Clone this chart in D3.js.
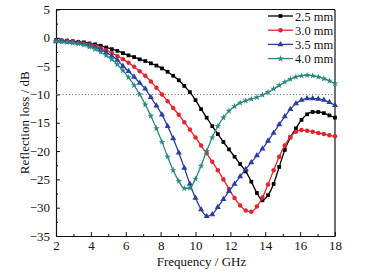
<!DOCTYPE html>
<html>
<head>
<meta charset="utf-8">
<script src="https://cdn.jsdelivr.net/npm/d3@7"></script>
<style>
  body { margin: 0; background: #fff; }
  text { font-family: "Liberation Serif", "Times New Roman", serif; }
</style>
</head>
<body>
<div id="chart"></div>
<script>
// Frequency points (GHz), 0.32 GHz step
const freq = d3.range(51).map(i => +(2 + 0.32 * i).toFixed(2));

const rl25 = [-0.4, -0.45, -0.5, -0.6, -0.7, -0.8, -1.0, -1.15, -1.4, -1.7,
  -2.0, -2.3, -2.7, -3.1, -3.4, -3.8, -4.1, -4.5, -4.9, -5.4,
  -6.0, -6.7, -7.5, -8.5, -9.6, -11.0, -12.6, -14.1, -15.6, -17.0,
  -18.4, -19.7, -21.0, -22.3, -23.6, -25.4, -27.4, -28.7, -27.8, -25.8,
  -22.8, -19.8, -17.6, -16.0, -14.5, -13.5, -13.1, -13.1, -13.3, -13.7, -14.1];

const rl30 = [-0.5, -0.55, -0.6, -0.7, -0.85, -1.0, -1.2, -1.45, -1.8, -2.2,
  -2.7, -3.2, -3.8, -4.4, -5.1, -5.9, -6.7, -7.7, -8.8, -10.0,
  -11.2, -12.4, -13.6, -14.9, -16.2, -17.6, -19.0, -20.4, -21.9, -23.4,
  -25.0, -26.7, -28.3, -29.6, -30.5, -30.7, -29.8, -28.2, -25.9, -23.4,
  -21.0, -19.0, -17.5, -16.6, -16.3, -16.4, -16.6, -16.8, -17.0, -17.2, -17.4];

const rl35 = [-0.55, -0.6, -0.7, -0.8, -0.95, -1.1, -1.4, -1.7, -2.1, -2.6,
  -3.2, -3.9, -5.0, -5.9, -6.9, -8.0, -9.0, -10.5, -12.0, -13.6,
  -15.6, -17.8, -20.3, -23.0, -25.8, -28.3, -30.3, -31.5, -31.2, -29.9,
  -28.5, -27.1, -25.8, -24.5, -23.2, -22.0, -20.8, -19.6, -18.2, -16.8,
  -15.3, -13.9, -12.6, -11.6, -11.0, -10.7, -10.7, -10.8, -11.0, -11.4, -11.9];

const rl40 = [-0.65, -0.7, -0.8, -0.9, -1.05, -1.25, -1.6, -2.0, -2.5, -3.1,
  -3.8, -4.7, -5.8, -7.0, -8.4, -10.0, -11.8, -13.8, -16.0, -18.4,
  -21.0, -23.4, -25.3, -26.6, -26.5, -24.9, -22.6, -20.0, -17.6, -15.6,
  -14.1, -12.9, -12.1, -11.5, -11.1, -10.8, -10.5, -10.1, -9.6, -9.0,
  -8.4, -7.8, -7.3, -6.9, -6.7, -6.6, -6.7, -6.9, -7.2, -7.6, -8.1];

const seriesNames = ["2.5 mm", "3.0 mm", "3.5 mm", "4.0 mm"];
const seriesValues = [rl25, rl30, rl35, rl40];
const colors = ["#000000", "#e3262d", "#2c3f9e", "#2a8a80"];
const symbols = [d3.symbolSquare, d3.symbolCircle, d3.symbolTriangle, d3.symbolStar];
const symbolSizes = [14, 16, 16, 14];

const xTicks = [2, 4, 6, 8, 10, 12, 14, 16, 18];
const yTicks = [5, 0, -5, -10, -15, -20, -25, -30, -35];

const W = 371, H = 277;
const margin = {top: 9.5, right: 36, bottom: 41, left: 56};
const width = W - margin.left - margin.right,
      height = H - margin.top - margin.bottom;

const x = d3.scaleLinear().domain([2, 18]).range([0, width]);
const y = d3.scaleLinear().domain([-35, 5]).range([height, 0]);

const svg = d3.select("#chart").append("svg")
    .attr("width", W)
    .attr("height", H)
  .append("g")
    .attr("transform", `translate(${margin.left},${margin.top})`);

// minor ticks (inward)
svg.append("g")
   .attr("transform", `translate(0,${height})`)
   .call(d3.axisBottom(x).tickValues(d3.range(3, 18, 2)).tickSize(-2).tickFormat(""))
   .call(g => g.select(".domain").remove());
svg.append("g")
   .call(d3.axisLeft(y).tickValues(d3.range(-32.5, 5, 5)).tickSize(-2).tickFormat(""))
   .call(g => g.select(".domain").remove());

// major axes
const xAxis = svg.append("g")
   .attr("transform", `translate(0,${height})`)
   .call(d3.axisBottom(x).tickValues(xTicks).tickSizeInner(-4).tickSizeOuter(0).tickPadding(5));
const yAxis = svg.append("g")
   .call(d3.axisLeft(y).tickValues(yTicks).tickSizeInner(-4).tickSizeOuter(0).tickPadding(6));

[xAxis, yAxis].forEach(g => {
  g.selectAll("text").attr("font-size", 13).attr("fill", "#111")
   .style("font-family", "'Liberation Serif', serif");
  g.selectAll("line").attr("stroke", "#111");
  g.select(".domain").attr("stroke", "#111").attr("stroke-width", 1.2);
});

// frame top / right
svg.append("line").attr("x1", 0).attr("x2", width).attr("y1", 0).attr("y2", 0)
   .attr("stroke", "#111").attr("stroke-width", 1.2);
svg.append("line").attr("x1", width).attr("x2", width).attr("y1", 0).attr("y2", height)
   .attr("stroke", "#111").attr("stroke-width", 1.2);

// reference line at -10 dB
svg.append("line")
   .attr("x1", 0).attr("x2", width)
   .attr("y1", y(-10)).attr("y2", y(-10))
   .attr("stroke", "#777").attr("stroke-width", 1)
   .attr("stroke-dasharray", "1.2,2");

const line = d3.line()
    .x((d, i) => x(freq[i]))
    .y(d => y(d))
    .curve(d3.curveMonotoneX);

seriesValues.forEach((vals, k) => {
  svg.append("path")
     .datum(vals)
     .attr("fill", "none")
     .attr("stroke", colors[k])
     .attr("stroke-width", 1.3)
     .attr("d", line);
  svg.selectAll(".m" + k)
     .data(vals)
   .enter().append("path")
     .attr("class", "m" + k)
     .attr("transform", (d, i) => `translate(${x(freq[i])},${y(d)})`)
     .attr("d", d3.symbol().type(symbols[k]).size(symbolSizes[k]))
     .attr("fill", colors[k]);
});

// legend
const legend = svg.append("g").attr("transform", `translate(${width - 67},6.5)`);
seriesNames.forEach((name, k) => {
  const row = legend.append("g").attr("transform", `translate(0,${k * 14.2})`);
  row.append("line").attr("x1", 0).attr("x2", 25).attr("y1", 0).attr("y2", 0)
     .attr("stroke", colors[k]).attr("stroke-width", 1.3);
  row.append("path")
     .attr("transform", "translate(12.5,0)")
     .attr("d", d3.symbol().type(symbols[k]).size(symbolSizes[k]))
     .attr("fill", colors[k]);
  row.append("text").attr("x", 27).attr("y", 4.5)
     .attr("font-size", 12.5).attr("fill", "#111")
     .text(name);
});

// axis titles
svg.append("text")
   .attr("x", width / 2 + 6).attr("y", height + 29.5)
   .attr("text-anchor", "middle")
   .attr("font-size", 13).attr("fill", "#111")
   .text("Frequency / GHz");
svg.append("text")
   .attr("transform", `translate(-27,${height / 2}) rotate(-90)`)
   .attr("text-anchor", "middle")
   .attr("font-size", 13).attr("fill", "#111")
   .text("Reflection loss / dB");
</script>
</body>
</html>
